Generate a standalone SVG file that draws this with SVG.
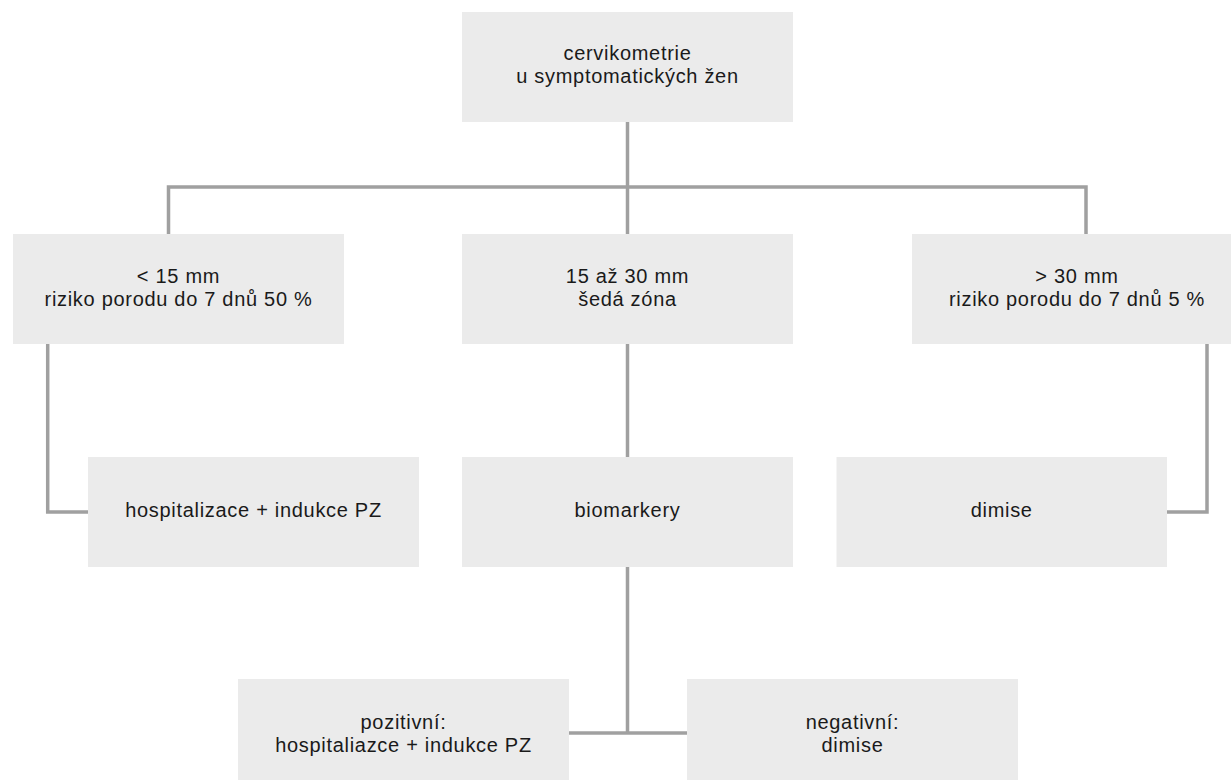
<svg xmlns="http://www.w3.org/2000/svg" width="1231" height="780" viewBox="0 0 1231 780">
<style>
.box{fill:#ebebeb;}
.t{font-family:"Liberation Sans",Arial,sans-serif;font-size:20px;fill:#1a1a1a;text-anchor:middle;letter-spacing:0.7px;}
.c{fill:none;stroke:#a0a0a0;stroke-width:3.5;stroke-linejoin:miter;}
</style>
<rect width="1231" height="780" fill="#ffffff"/>
<g id="connectors">
<path class="c" d="M627.5 122 V234"/>
<path class="c" d="M168.5 234 V187 H1086 V234"/>
<path class="c" d="M47.7 344 V512 H88"/>
<path class="c" d="M627.5 344 V457"/>
<path class="c" d="M1207 344 V512 H1167"/>
<path class="c" d="M627.5 567 V733"/>
<path class="c" d="M569 733 H687"/>
</g>
<g id="n-top">
<rect class="box" x="462" y="12" width="331" height="110"/>
<text class="t" x="627.5" y="60">cervikometrie</text>
<text class="t" x="627.5" y="83">u symptomatických žen</text>
</g>
<g id="n-lt15">
<rect class="box" x="13" y="234" width="331" height="110"/>
<text class="t" x="178.5" y="283">&lt; 15 mm</text>
<text class="t" x="178.5" y="306">riziko porodu do 7 dnů 50 %</text>
</g>
<g id="n-15-30">
<rect class="box" x="462" y="234" width="331" height="110"/>
<text class="t" x="627.5" y="283">15 až 30 mm</text>
<text class="t" x="627.5" y="306">šedá zóna</text>
</g>
<g id="n-gt30">
<rect class="box" x="912" y="234" width="319" height="110"/>
<text class="t" x="1077" y="283">&gt; 30 mm</text>
<text class="t" x="1077" y="306">riziko porodu do 7 dnů 5 %</text>
</g>
<g id="n-hosp">
<rect class="box" x="88" y="457" width="331" height="110"/>
<text class="t" x="253.5" y="517">hospitalizace + indukce PZ</text>
</g>
<g id="n-bio">
<rect class="box" x="462" y="457" width="331" height="110"/>
<text class="t" x="627.5" y="517">biomarkery</text>
</g>
<g id="n-dimise">
<rect class="box" x="836.5" y="457" width="330.5" height="110"/>
<text class="t" x="1001.7" y="517">dimise</text>
</g>
<g id="n-poz">
<rect class="box" x="238" y="679" width="331" height="101"/>
<text class="t" x="403.5" y="729">pozitivní:</text>
<text class="t" x="403.5" y="752">hospitaliazce + indukce PZ</text>
</g>
<g id="n-neg">
<rect class="box" x="687" y="679" width="331" height="101"/>
<text class="t" x="852.5" y="729">negativní:</text>
<text class="t" x="852.5" y="752">dimise</text>
</g>
</svg>
